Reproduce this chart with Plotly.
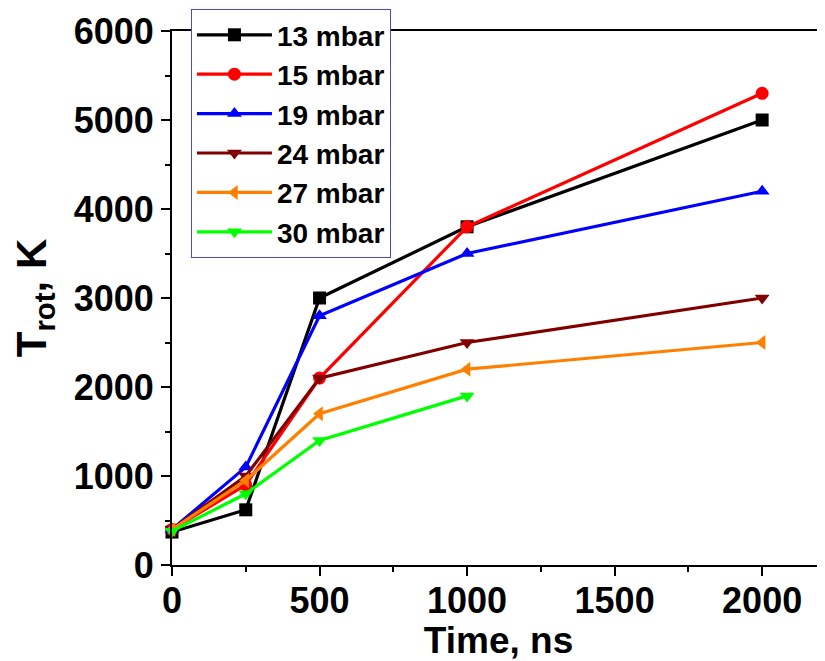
import plotly.graph_objects as go

time_ns = [0, 250, 500, 1000, 2000]
t_13 = [370, 620, 3000, 3800, 5000]
t_15 = [400, 900, 2100, 3800, 5300]
t_19 = [400, 1100, 2800, 3500, 4200]
t_24 = [400, 1000, 2100, 2500, 3000]
t_27 = [400, 950, 1700, 2200, 2500]
time_30 = [0, 250, 500, 1000]
t_30 = [380, 800, 1400, 1900]

series = [
    ("13 mbar", time_ns, t_13, "#000000", "square"),
    ("15 mbar", time_ns, t_15, "#ff0000", "circle"),
    ("19 mbar", time_ns, t_19, "#0000ff", "triangle-up"),
    ("24 mbar", time_ns, t_24, "#800000", "triangle-down"),
    ("27 mbar", time_ns, t_27, "#ff8000", "triangle-left"),
    ("30 mbar", time_30, t_30, "#00ff00", "triangle-down"),
]

font_family = "Liberation Sans, Arial, sans-serif"

fig = go.Figure()
for name, xs, ys, color, sym in series:
    fig.add_trace(go.Scatter(
        x=xs, y=ys, name=name, mode="lines+markers",
        line=dict(color=color, width=3.2),
        marker=dict(symbol=sym, size=13, color=color),
        cliponaxis=False,
    ))

# page body has an 8px margin: figure is offset by 8px in the window
fig.update_layout(
    width=817, height=653,
    margin=dict(l=164, r=0, t=23, b=96, autoexpand=False),
    paper_bgcolor="white", plot_bgcolor="white",
    font=dict(family=font_family, color="black", size=34, weight="bold"),
    showlegend=True,
    legend=dict(
        x=0.029, y=1.041, xanchor="left", yanchor="top",
        bgcolor="white", bordercolor="#4a4ad0", borderwidth=1,
        font=dict(size=28, family=font_family, weight="bold"),
        itemwidth=75, tracegroupgap=0,
        entrywidth=135, entrywidthmode="pixels",
    ),
)
fig.update_xaxes(
    range=[0, 2213], showgrid=False, zeroline=False,
    showline=True, linecolor="black", linewidth=2, mirror=True,
    ticks="outside", tickcolor="black", tickwidth=2, ticklen=9,
    dtick=500, tick0=0,
    minor=dict(ticks="outside", dtick=250, ticklen=5, tickwidth=2, tickcolor="black"),
    tickfont=dict(size=36, weight="bold"),
    ticklabelstandoff=-6,
    title=dict(text="Time, ns", font=dict(size=37, weight="bold"), standoff=0),
)
fig.update_yaxes(
    range=[0, 6000], showgrid=False, zeroline=False,
    showline=True, linecolor="black", linewidth=2, mirror=True,
    ticks="outside", tickcolor="black", tickwidth=2, ticklen=9,
    dtick=1000, tick0=0,
    minor=dict(ticks="outside", dtick=500, ticklen=5, tickwidth=2, tickcolor="black"),
    tickfont=dict(size=36, weight="bold"),
    title=dict(text="T<sub>rot</sub>, K", font=dict(size=42, weight="bold"), standoff=20),
)

fig.write_html("out.html")
